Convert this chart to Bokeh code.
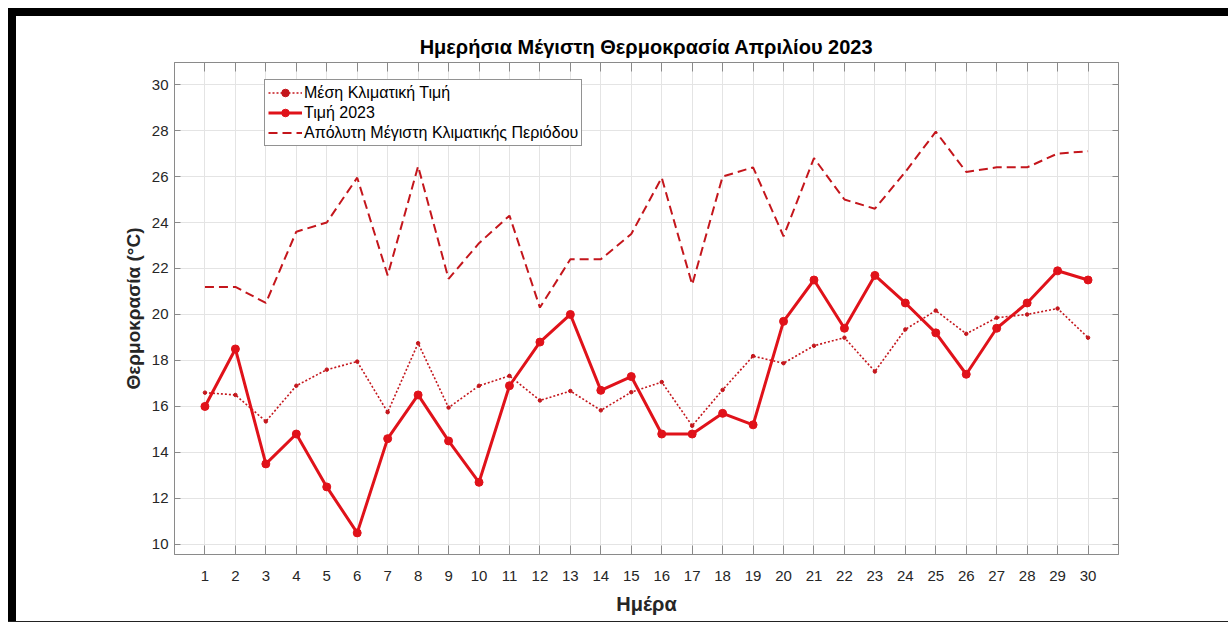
from bokeh.plotting import figure
from bokeh.models import Range1d, LinearAxis, Legend, LegendItem, FixedTicker, Div
from bokeh.layouts import column, row
from bokeh.embed import file_html
from bokeh.resources import INLINE

days = list(range(1, 31))
mean_clim = [16.6, 16.5, 15.35, 16.9, 17.6, 17.95, 15.75, 18.75, 15.95, 16.9,
             17.33, 16.26, 16.67, 15.83, 16.62, 17.06, 15.16, 16.72, 18.19, 17.88,
             18.64, 18.99, 17.52, 19.35, 20.17, 19.16, 19.86, 20.0, 20.26, 18.99]
val_2023 = [16.0, 18.5, 13.5, 14.8, 12.5, 10.5, 14.6, 16.5, 14.5, 12.7,
            16.9, 18.8, 20.0, 16.7, 17.3, 14.8, 14.8, 15.7, 15.2, 19.7,
            21.5, 19.4, 21.7, 20.5, 19.2, 17.4, 19.4, 20.5, 21.9, 21.5]
abs_max = [21.2, 21.2, 20.5, 23.6, 24.0, 25.95, 21.7, 26.45, 21.55, 23.1,
           24.3, 20.3, 22.4, 22.4, 23.5, 25.95, 21.3, 26.0, 26.4, 23.4,
           26.8, 25.0, 24.6, 26.2, 27.95, 26.2, 26.4, 26.4, 27.0, 27.1]
y_ticks = list(range(10, 31, 2))

TITLE = "Ημερήσια Μέγιστη Θερμοκρασία Απριλίου 2023"
XLABEL = "Ημέρα"
YLABEL = "Θερμοκρασία (°C)"
LEG = ["Μέση Κλιματική Τιμή", "Τιμή 2023", "Απόλυτη Μέγιστη Κλιματικής Περιόδου"]

FONT = "Liberation Sans"
RED = "#e0121a"
DARKRED = "#c4161c"
AXC = "#8a8a8a"
TXT = "#262626"

p = figure(width=1212, height=605, output_backend="svg", toolbar_location=None,
           x_range=Range1d(0, 31), y_range=Range1d(9.56, 30.96),
           min_border_left=158, min_border_right=110, min_border_top=46,
           min_border_bottom=67, title=TITLE)

p.title.align = "center"
p.title.text_font = FONT
p.title.text_font_size = "20px"
p.title.text_font_style = "bold"
p.title.text_color = "#000000"

p.outline_line_color = AXC
p.background_fill_color = "white"
p.border_fill_color = "white"

for ax in p.xaxis:
    ax.ticker = FixedTicker(ticks=days)
    ax.axis_label = XLABEL
for ax in p.yaxis:
    ax.ticker = FixedTicker(ticks=y_ticks)
    ax.axis_label = YLABEL

for ax in list(p.xaxis) + list(p.yaxis):
    ax.axis_line_color = AXC
    ax.major_tick_line_color = AXC
    ax.major_tick_out = 0
    ax.minor_tick_line_color = None
    ax.major_label_text_font = FONT
    ax.major_label_text_font_size = "15px"
    ax.major_label_text_color = TXT
    ax.axis_label_text_font = FONT
    ax.axis_label_text_font_style = "bold"
    ax.axis_label_text_color = TXT
p.xaxis.axis_label_text_font_size = "20px"
p.yaxis.axis_label_text_font_size = "19px"
p.xaxis.major_tick_in = 9
p.yaxis.major_tick_in = 6
p.xaxis.major_label_standoff = 16
p.yaxis.major_label_standoff = 6
p.xaxis.axis_label_standoff = 9
p.yaxis.axis_label_standoff = 5

top = LinearAxis(ticker=FixedTicker(ticks=days),
                 major_label_overrides={d: "" for d in days},
                 major_tick_in=9, major_tick_out=0, minor_tick_line_color=None,
                 axis_line_color=AXC, major_tick_line_color=AXC, major_label_standoff=0)
right = LinearAxis(ticker=FixedTicker(ticks=y_ticks),
                   major_label_overrides={t: "" for t in y_ticks},
                   major_tick_in=6, major_tick_out=0, minor_tick_line_color=None,
                   axis_line_color=AXC, major_tick_line_color=AXC, major_label_standoff=0)
p.add_layout(top, "above")
p.add_layout(right, "right")

p.xgrid.ticker = FixedTicker(ticks=days)
p.ygrid.ticker = FixedTicker(ticks=y_ticks)
p.grid.grid_line_color = "#e4e4e4"

r1 = p.line(days, mean_clim, line_color=DARKRED, line_width=1.6, line_dash="2 2")
r1m = p.scatter(days, mean_clim, size=3.5, color=DARKRED)
r2 = p.line(days, val_2023, line_color=RED, line_width=3)
r2m = p.scatter(days, val_2023, size=8, color=RED)
r3 = p.line(days, abs_max, line_color=DARKRED, line_width=2, line_dash="9 5")

legend = Legend(items=[LegendItem(label=LEG[0], renderers=[r1, r1m]),
                       LegendItem(label=LEG[1], renderers=[r2, r2m]),
                       LegendItem(label=LEG[2], renderers=[r3])],
                location=(90, 408), orientation="vertical")
legend.label_text_font = FONT
legend.label_text_font_size = "16px"
legend.label_text_color = "#000000"
legend.label_height = 19
legend.glyph_height = 19
legend.glyph_width = 34
legend.spacing = 1
legend.padding = 3
legend.margin = 0
legend.label_standoff = 2
legend.border_line_color = "#262626"
legend.border_line_width = 1
legend.background_fill_alpha = 1
p.add_layout(legend, "center")
p.margin = 0

white_top = Div(text="", width=1228, height=8, margin=0,
                styles={"background-color": "white"})
white_left = Div(text="", width=8, height=614, margin=0,
                 styles={"background-color": "white"})
top_bar = Div(text="", width=1220, height=8, margin=0,
              styles={"background-color": "black"})
left_bar = Div(text="", width=8, height=605, margin=0,
               styles={"background-color": "black"})
bottom_bar = Div(text="", width=1220, height=1, margin=0,
                 styles={"background-color": "#222222"})

inner = column(top_bar, row(left_bar, p, spacing=0), bottom_bar, spacing=0)
layout = column(white_top, row(white_left, inner, spacing=0), spacing=0)

open("out.html", "w").write(file_html(layout, INLINE))
